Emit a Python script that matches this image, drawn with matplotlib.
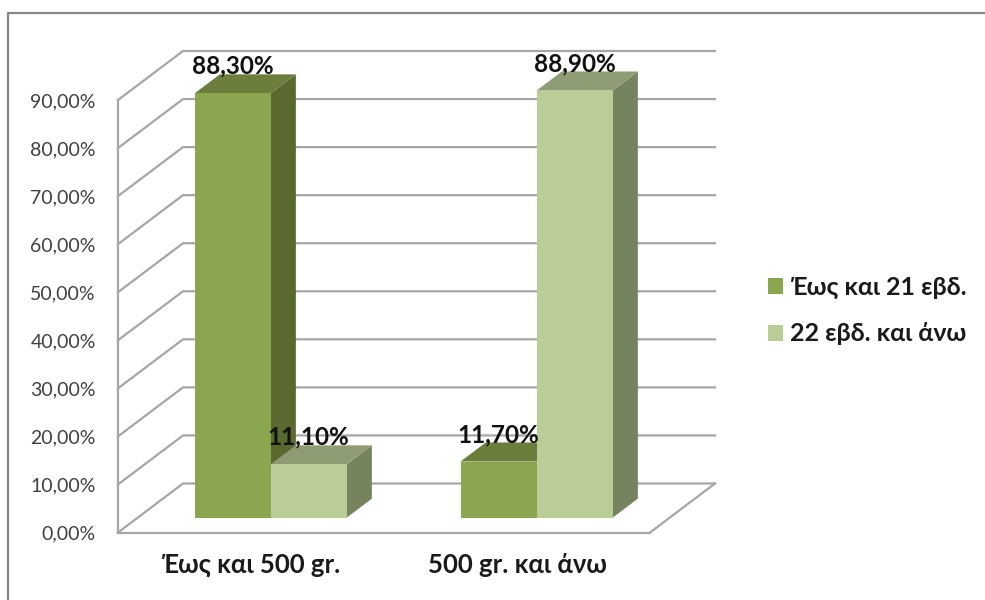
import numpy as np
import matplotlib.pyplot as plt
from matplotlib.lines import Line2D
from matplotlib.patches import Patch, Polygon

plt.rcParams['font.family'] = ['Lato', 'Noto Sans', 'DejaVu Sans']

categories = ['Έως και 500 gr.', '500 gr. και άνω']
series_names = ['Έως και 21 εβδ.', '22 εβδ. και άνω']
series_values = [[88.3, 11.7], [11.1, 88.9]]
value_labels = [['88,30%', '11,70%'], ['11,10%', '88,90%']]
y_ticks = [0, 10, 20, 30, 40, 50, 60, 70, 80, 90]
y_tick_labels = ['0,00%', '10,00%', '20,00%', '30,00%', '40,00%',
                 '50,00%', '60,00%', '70,00%', '80,00%', '90,00%']

front_colors = ['#8aa64f', '#bbcd96']
side_colors = ['#59692f', '#76835f']
top_colors = ['#6b7e3b', '#8e9c73']
grid_color = '#a6a6a6'
W, H = 985, 600

fig = plt.figure(figsize=(W / 100, H / 100), dpi=100)
ax = fig.add_axes([118 / W, 1 - 532.5 / H, 532 / W, 432.5 / H])
ax.set_xlim(0, 2)
ax.set_ylim(0, 90)
ax.patch.set_visible(False)

# oblique offset of the back wall, in data units
depth_x = 65 / 266
depth_y = 90 * 49 / 432.5

# walls and floor
for tick in y_ticks:
    ax.plot([0, depth_x, 2 + depth_x], [tick, tick + depth_y, tick + depth_y],
            color=grid_color, lw=1.6, clip_on=False, zorder=1)
ax.plot([2 + depth_x, 2], [depth_y, 0], color=grid_color, lw=1.6, clip_on=False, zorder=1)

for name in ['top', 'right']:
    ax.spines[name].set_visible(False)
for name in ['left', 'bottom']:
    ax.spines[name].set_color(grid_color)
    ax.spines[name].set_linewidth(1.6)
    ax.spines[name].set_zorder(1)

# bars sit between 0.30 and 0.69 of the depth
near = 0.30
far = 0.69
bar_width = 76 / 266
index = np.arange(len(categories)) + 0.5

for c in range(len(categories)):
    for s in range(len(series_names)):
        value = series_values[s][c]
        left = index[c] + (s - 1) * bar_width + near * depth_x
        right = left + bar_width
        base = near * depth_y
        top = base + value
        shift_x = (far - near) * depth_x
        shift_y = (far - near) * depth_y
        order = 3 + c * 3 + s * 3

        ax.bar(left, value, bar_width, bottom=base, align='edge', color=front_colors[s],
               linewidth=0, clip_on=False, zorder=order + 1)
        ax.add_patch(Polygon([(right, base), (right + shift_x, base + shift_y),
                              (right + shift_x, top + shift_y), (right, top)],
                             closed=True, facecolor=side_colors[s], linewidth=0,
                             clip_on=False, zorder=order))
        ax.add_patch(Polygon([(left, top), (left + shift_x, top + shift_y),
                              (right + shift_x, top + shift_y), (right, top)],
                             closed=True, facecolor=top_colors[s], linewidth=0,
                             clip_on=False, zorder=order))
        ax.annotate(value_labels[s][c], xy=(left + bar_width / 2, top), xytext=(0, 19.5),
                    textcoords='offset points', ha='center', va='center', fontsize=17.5,
                    fontweight='bold', color='#111111', annotation_clip=False, zorder=30)

ax.set_yticks(y_ticks)
ax.set_yticklabels(y_tick_labels, fontsize=14, color='#404040')
ax.set_xticks(index)
ax.set_xticklabels(categories, fontsize=18.5, fontweight='bold', color='#1a1a1a')
ax.tick_params(axis='both', length=0)
ax.tick_params(axis='y', pad=16)
ax.tick_params(axis='x', pad=15)

handles = [Patch(facecolor=color, linewidth=0) for color in front_colors]
fig.legend(handles, series_names, loc='center left', bbox_to_anchor=(745 / W, 1 - 310.5 / H),
           frameon=False, handlelength=0.6, handleheight=0.6, handletextpad=0.3,
           labelspacing=0.95, prop={'size': 18, 'weight': 'bold'}, labelcolor='#1a1a1a')

# chart area border, running off the right and bottom edges
fig.add_artist(Line2D([8 / W, 8 / W, 1], [0, 1 - 12.5 / H, 1 - 12.5 / H],
                      color='#868686', lw=1.6))

fig.savefig('out.png', dpi=100)
